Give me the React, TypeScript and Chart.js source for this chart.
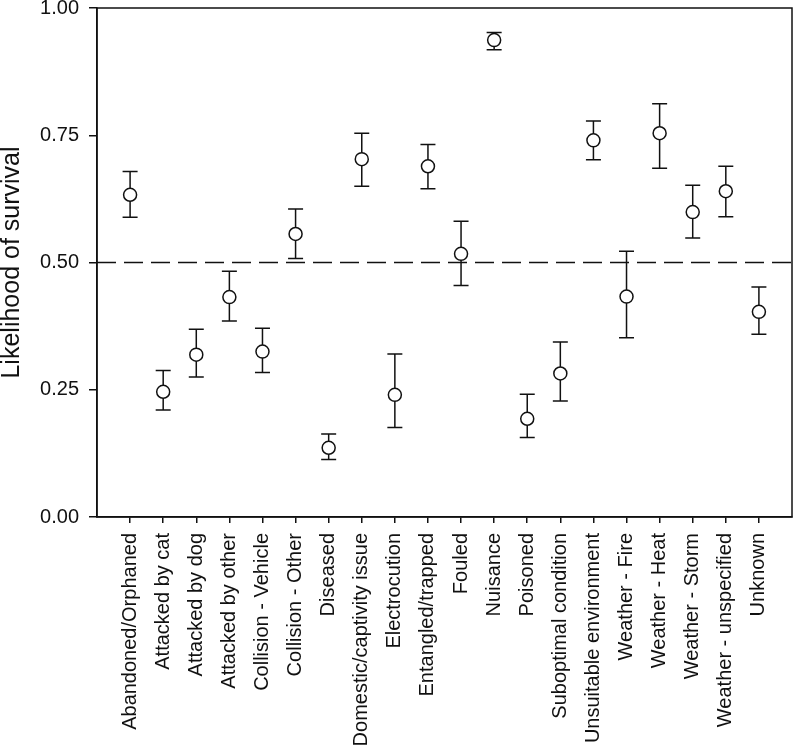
import React, { useEffect, useRef } from "react";
import { Chart, registerables } from "chart.js";

Chart.register(...registerables);

const categories = [
  "Abandoned/Orphaned",
  "Attacked by cat",
  "Attacked by dog",
  "Attacked by other",
  "Collision - Vehicle",
  "Collision - Other",
  "Diseased",
  "Domestic/captivity issue",
  "Electrocution",
  "Entangled/trapped",
  "Fouled",
  "Nuisance",
  "Poisoned",
  "Suboptimal condition",
  "Unsuitable environment",
  "Weather - Fire",
  "Weather - Heat",
  "Weather - Storm",
  "Weather - unspecified",
  "Unknown",
];

const survival = [
  0.633, 0.246, 0.319, 0.432, 0.325, 0.556, 0.136, 0.703, 0.240, 0.689,
  0.517, 0.937, 0.193, 0.282, 0.740, 0.433, 0.754, 0.599, 0.640, 0.403,
];

const upper = [
  0.679, 0.288, 0.369, 0.483, 0.371, 0.605, 0.163, 0.754, 0.320, 0.732,
  0.581, 0.952, 0.241, 0.344, 0.778, 0.522, 0.812, 0.652, 0.689, 0.452,
];

const lower = [
  0.589, 0.210, 0.275, 0.385, 0.284, 0.508, 0.113, 0.650, 0.176, 0.645,
  0.455, 0.918, 0.156, 0.228, 0.702, 0.352, 0.685, 0.548, 0.590, 0.359,
];

const yTicks = [0, 0.25, 0.5, 0.75, 1.0];
const reference = 0.5;

const FONT = "'Liberation Sans', Arial, sans-serif";
const INK = "#111111";

export default function App() {
  const ref = useRef<HTMLCanvasElement | null>(null);

  useEffect(() => {
    document.body.style.margin = "0";
    const canvas = ref.current;
    if (!canvas) return;

    const errorBars = {
      id: "errorBars",
      beforeDatasetsDraw(chart: any) {
        const { ctx, scales } = chart;
        const xs = scales.x;
        const ys = scales.y;
        ctx.save();
        ctx.strokeStyle = INK;
        ctx.lineWidth = 1.5;
        categories.forEach((_, i) => {
          const px = xs.getPixelForValue(i + 1);
          const pt = ys.getPixelForValue(upper[i]);
          const pb = ys.getPixelForValue(lower[i]);
          ctx.beginPath();
          ctx.moveTo(px, pt);
          ctx.lineTo(px, pb);
          ctx.moveTo(px - 7.5, pt);
          ctx.lineTo(px + 7.5, pt);
          ctx.moveTo(px - 7.5, pb);
          ctx.lineTo(px + 7.5, pb);
          ctx.stroke();
        });
        ctx.restore();
      },
      afterDraw(chart: any) {
        const { ctx, chartArea } = chart;
        ctx.save();
        ctx.strokeStyle = INK;
        ctx.lineWidth = 1.5;
        ctx.strokeRect(
          chartArea.left,
          chartArea.top,
          chartArea.right - chartArea.left,
          chartArea.bottom - chartArea.top
        );
        ctx.restore();
      },
    };

    const chart = new Chart(canvas, {
      type: "scatter",
      data: {
        datasets: [
          {
            type: "scatter",
            data: survival.map((v, i) => ({ x: i + 1, y: v })),
            pointRadius: 6.5,
            pointHoverRadius: 6.5,
            pointBackgroundColor: "#ffffff",
            pointBorderColor: INK,
            pointBorderWidth: 1.5,
            order: 0,
          } as any,
          {
            type: "line",
            data: [
              { x: 0, y: reference },
              { x: categories.length + 1, y: reference },
            ],
            borderColor: INK,
            borderWidth: 1.3,
            borderDash: [19, 8],
            pointRadius: 0,
            fill: false,
            order: 1,
          } as any,
        ],
      },
      options: {
        responsive: false,
        animation: false,
        layout: { padding: { top: 7, right: 2, left: 0, bottom: 0 } },
        plugins: {
          legend: { display: false },
          tooltip: { enabled: false },
        },
        scales: {
          x: {
            type: "linear",
            min: 0,
            max: categories.length + 1,
            afterBuildTicks(axis: any) {
              axis.ticks = categories.map((_, i) => ({ value: i + 1 }));
            },
            afterFit(axis: any) {
              axis.height = 232;
              axis.paddingLeft = 0;
              axis.paddingRight = 0;
            },
            grid: {
              drawOnChartArea: false,
              drawTicks: true,
              tickLength: 6,
              color: INK,
              lineWidth: 1.5,
            },
            border: { display: true, color: INK, width: 1.5 },
            ticks: {
              autoSkip: false,
              maxRotation: 90,
              minRotation: 90,
              padding: 10,
              color: INK,
              font: { family: FONT, size: 20 },
              callback: (v: any) => categories[Number(v) - 1] ?? "",
            },
          },
          y: {
            type: "linear",
            min: 0,
            max: 1,
            afterBuildTicks(axis: any) {
              axis.ticks = yTicks.map((v) => ({ value: v }));
            },
            afterFit(axis: any) {
              axis.width = 97;
              axis.paddingTop = 0;
              axis.paddingBottom = 0;
            },
            grid: {
              drawOnChartArea: false,
              drawTicks: true,
              tickLength: 8,
              color: INK,
              lineWidth: 1.5,
            },
            border: { display: true, color: INK, width: 1.5 },
            ticks: {
              padding: 10,
              color: INK,
              font: { family: FONT, size: 20 },
              callback: (v: any) => Number(v).toFixed(2),
            },
            title: {
              display: true,
              text: "Likelihood of survival",
              color: INK,
              font: { family: FONT, size: 25, lineHeight: 1 },
              padding: 0,
            },
          },
        },
      },
      plugins: [errorBars],
    });

    return () => chart.destroy();
  }, []);

  return (
    <div style={{ width: 800, height: 749 }}>
      <canvas ref={ref} width={800} height={749} />
    </div>
  );
}
